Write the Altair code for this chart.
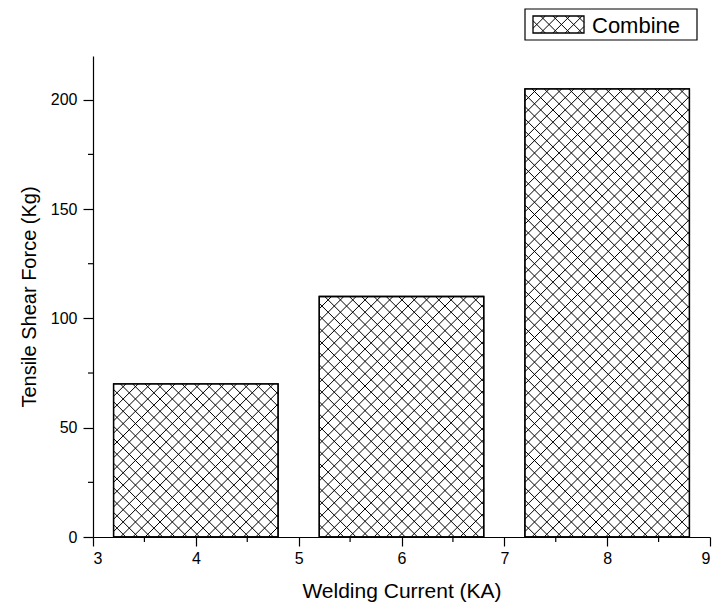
import altair as alt
import pandas as pd

# ---- data ----
current = [4, 6, 8]
force = [70, 110, 205]
minor_x = [3.5, 4.5, 5.5, 6.5, 7.5, 8.5]
minor_y = [25, 75, 125, 175]
x_ticks = [3, 4, 5, 6, 7, 8, 9]
y_ticks = [0, 50, 100, 150, 200]
legend_label = ["Combine"]

# ---- layout constants (style) ----
PW, PH = 617, 481
XD = [3, 9]
YD = [0, 220]
SX = PW / (XD[1] - XD[0])
SY = PH / (YD[1] - YD[0])
HALF = 0.8          # half bar width in data units
D = 12.3            # hatch spacing in px
FONT = "Liberation Sans"

bars = pd.DataFrame({"current": current, "force": force})
xs = alt.Scale(domain=XD, nice=False, zero=False)
ys = alt.Scale(domain=YD, nice=False, zero=False)

x_axis = alt.Axis(values=x_ticks, title="Welding Current (KA)", format="d",
                  tickSize=9, labelPadding=4, titlePadding=14, titleFontSize=21)
y_axis = alt.Axis(values=y_ticks, title="Tensile Shear Force (Kg)", format="d",
                  tickSize=10, labelPadding=6, titlePadding=11, titleFontSize=20)

base = alt.Chart(bars).transform_calculate(
    xl=f"datum.current - {HALF}", xr=f"datum.current + {HALF}"
)

bar_layer = base.mark_rect(fill="white", stroke="black", strokeWidth=1.3).encode(
    x=alt.X("xl:Q", scale=xs, axis=x_axis),
    x2="xr:Q",
    y=alt.Y("force:Q", scale=ys, axis=y_axis),
    y2=alt.datum(0),
)


def hatch_transforms(ch, x0, W, H):
    """Add cross-hatch segment transforms. x0/W/H are expressions (px-space)."""
    return ch.transform_calculate(
        hx0=x0, hW=W, hH=H
    ).transform_calculate(
        k=f"sequence(0, ceil((datum.hW + datum.hH) / {D}) + 2)"
    ).transform_flatten(["k"]).transform_calculate(
        dir="[1, -1]"
    ).transform_flatten(["dir"]).transform_calculate(
        c=f"datum.dir == 1 ? (-datum.hH + datum.k * {D}) : (datum.k * {D})"
    ).transform_calculate(
        vlo="datum.dir == 1 ? max(0, -datum.c) : max(0, datum.c - datum.hW)",
        vhi="datum.dir == 1 ? min(datum.hH, datum.hW - datum.c) : min(datum.hH, datum.c)",
    ).transform_filter("datum.vhi - datum.vlo > 0.3").transform_calculate(
        ulo="datum.dir == 1 ? datum.vlo + datum.c : datum.c - datum.vlo",
        uhi="datum.dir == 1 ? datum.vhi + datum.c : datum.c - datum.vhi",
    )


hatch = hatch_transforms(alt.Chart(bars), f"datum.current - {HALF}",
                         f"{2 * HALF * SX}", f"datum.force * {SY}").transform_calculate(
    hx=f"datum.hx0 + datum.ulo / {SX}",
    hx2=f"datum.hx0 + datum.uhi / {SX}",
    hy=f"datum.vlo / {SY}",
    hy2=f"datum.vhi / {SY}",
).mark_rule(color="black", strokeWidth=1.0).encode(
    x=alt.X("hx:Q", scale=xs), x2="hx2:Q",
    y=alt.Y("hy:Q", scale=ys), y2="hy2:Q",
)

outline = base.mark_rect(fill="transparent", stroke="black", strokeWidth=1.3).encode(
    x=alt.X("xl:Q", scale=xs), x2="xr:Q",
    y=alt.Y("force:Q", scale=ys), y2=alt.datum(0),
)

minor_xt = alt.Chart(pd.DataFrame({"mx": minor_x})).mark_rule(color="black", strokeWidth=1.2).encode(
    x=alt.X("mx:Q", scale=xs), y=alt.value(PH), y2=alt.value(PH + 5)
)
minor_yt = alt.Chart(pd.DataFrame({"my": minor_y})).mark_rule(color="black", strokeWidth=1.2).encode(
    y=alt.Y("my:Q", scale=ys), x=alt.value(0), x2=alt.value(-5)
)

# ---- legend (manual, above plot) ----
leg_df = pd.DataFrame({"label": legend_label})
leg_box = alt.Chart(leg_df).mark_rect(fill="white", stroke="black", strokeWidth=1.2).encode(
    x=alt.value(432), x2=alt.value(604), y=alt.value(-47), y2=alt.value(-16)
)
leg_text = alt.Chart(leg_df).mark_text(align="left", baseline="alphabetic", font=FONT,
                                       fontSize=22, color="black").encode(
    x=alt.value(499), y=alt.value(-23), text="label:N"
)
SW_X, SW_Y, SW_W, SW_H = 440, -40, 51, 17
leg_hatch = hatch_transforms(alt.Chart(leg_df), f"{SW_X}", f"{SW_W}", f"{SW_H}").transform_calculate(
    px="datum.hx0 + datum.ulo", px2="datum.hx0 + datum.uhi",
    py=f"{SW_Y} + datum.vlo", py2=f"{SW_Y} + datum.vhi",
).mark_rule(color="black", strokeWidth=1.0).encode(
    x=alt.X("px:Q", scale=None), x2="px2:Q",
    y=alt.Y("py:Q", scale=None), y2="py2:Q",
)
leg_swatch = alt.Chart(leg_df).mark_rect(fill="transparent", stroke="black", strokeWidth=1.3).encode(
    x=alt.value(SW_X), x2=alt.value(SW_X + SW_W), y=alt.value(SW_Y), y2=alt.value(SW_Y + SW_H)
)

chart = alt.layer(
    bar_layer, hatch, outline, minor_xt, minor_yt,
    leg_box, leg_hatch, leg_swatch, leg_text,
).properties(
    width=PW, height=PH,
    autosize=alt.AutoSizeParams(type="none"),
    padding={"left": 93, "top": 56, "right": 6, "bottom": 73},
    background="white",
).configure_view(stroke="transparent").configure_axis(
    grid=False, domainColor="black", domainWidth=1.2, tickColor="black", tickWidth=1.2,
    labelColor="black", titleColor="black", labelFont=FONT, titleFont=FONT,
    labelFontSize=16, titleFontWeight="normal",
)

chart.save("out.html", embed_options={"renderer": "svg", "actions": False})
